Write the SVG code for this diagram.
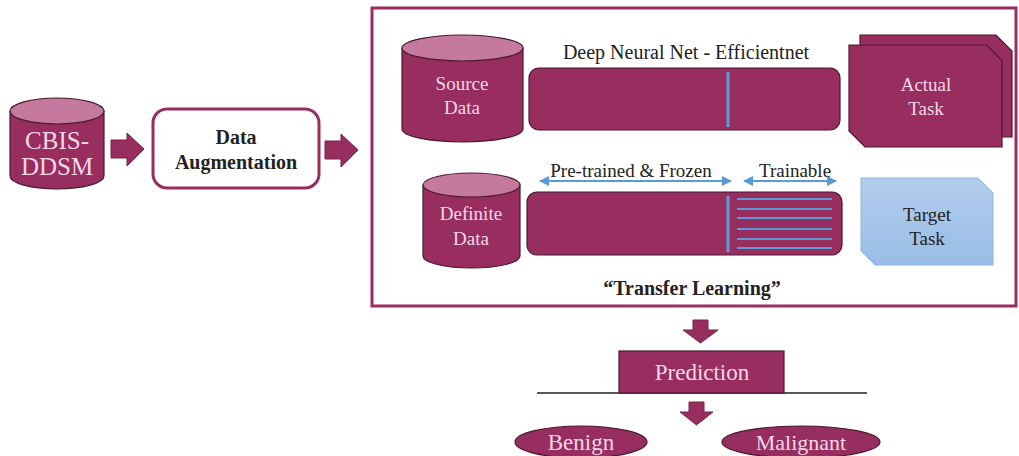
<svg xmlns="http://www.w3.org/2000/svg" width="1019" height="456" viewBox="0 0 1019 456">
<style>
.m{fill:#982d5f;stroke:#4a1a30;stroke-width:1.2}
.top{fill:#c5799f;stroke:#4a1a30;stroke-width:1.2}
.lt{fill:#f4d8e8}
.dk{fill:#222}
.blue{stroke:#5b9bd5;stroke-width:3}
.bl2{stroke:#5b9bd5;stroke-width:2}
.arr{fill:#982d5f;stroke:#7a2249;stroke-width:1}
</style>
<defs>
<linearGradient id="g" x1="0" y1="0" x2="0" y2="1"><stop offset="0" stop-color="#b3cdec"/><stop offset="1" stop-color="#98bde6"/></linearGradient>
<marker id="ah" viewBox="0 0 10 10" refX="9" refY="5" markerWidth="5" markerHeight="5" orient="auto-start-reverse"><path d="M0,0L10,5L0,10z" fill="#5b9bd5"/></marker>
</defs>
<rect width="1019" height="456" fill="#fff"/>
<g font-family="Liberation Serif, DejaVu Serif, serif" text-anchor="middle">
<g id="cbis">
<path class="m" d="M10,111 V176 A47,13 0 0 0 104,176 V111z"/>
<ellipse class="top" cx="57" cy="111" rx="47" ry="13"/>
<text class="lt" x="57" y="149" font-size="25">CBIS-</text>
<text class="lt" x="57" y="175" font-size="25">DDSM</text>
</g>
<g id="aug">
<rect x="153" y="109" width="166" height="79" rx="14" fill="#fff" stroke="#982d5f" stroke-width="3"/>
<text class="dk" x="236" y="144" font-size="20" font-weight="bold">Data</text>
<text class="dk" x="236" y="169" font-size="20" font-weight="bold">Augmentation</text>
</g>
<g id="tl">
<rect x="372" y="8" width="644" height="298" fill="#fff" stroke="#982d5f" stroke-width="3"/>
<text class="dk" x="692" y="295" font-size="20" font-weight="bold">“Transfer Learning”</text>
</g>
<g id="source">
<path class="m" d="M402,48 V129 A60.5,13 0 0 0 523,129 V48z"/>
<ellipse class="top" cx="462.5" cy="48" rx="60.5" ry="13"/>
<text class="lt" x="462" y="90" font-size="19">Source</text>
<text class="lt" x="462" y="114" font-size="19">Data</text>
</g>
<g id="net1">
<text class="dk" x="686" y="59" font-size="20">Deep Neural Net - Efficientnet</text>
<rect class="m" x="529" y="68" width="311" height="62" rx="10"/>
<line class="blue" x1="728" y1="72" x2="728" y2="127"/>
</g>
<g id="actual">
<path class="m" d="M860,35 H996 L1012,51 V137 H876 L860,121z"/>
<path class="m" d="M849,45 H987 L1002,61 V147 H865 L849,131z"/>
<text class="lt" x="926" y="91" font-size="19">Actual</text>
<text class="lt" x="926" y="115" font-size="19">Task</text>
</g>
<g id="definite">
<path class="m" d="M423,185 V256 A48.5,12 0 0 0 520,256 V185z"/>
<ellipse class="top" cx="471.5" cy="185" rx="48.5" ry="12"/>
<text class="lt" x="471" y="220" font-size="19">Definite</text>
<text class="lt" x="471" y="245" font-size="19">Data</text>
</g>
<g id="net2">
<text class="dk" x="631" y="177" font-size="19">Pre-trained &amp; Frozen</text>
<text class="dk" x="795" y="177" font-size="19">Trainable</text>
<line class="bl2" x1="540" y1="181" x2="731" y2="181" marker-start="url(#ah)" marker-end="url(#ah)"/>
<line class="bl2" x1="744" y1="181" x2="836" y2="181" marker-start="url(#ah)" marker-end="url(#ah)"/>
<rect class="m" x="527" y="192" width="315" height="63" rx="10"/>
<line class="blue" x1="728" y1="196" x2="728" y2="252"/>
<g class="bl2">
<line x1="737" y1="199" x2="832" y2="199"/>
<line x1="737" y1="209" x2="832" y2="209"/>
<line x1="737" y1="218" x2="832" y2="218"/>
<line x1="737" y1="229" x2="832" y2="229"/>
<line x1="737" y1="239" x2="832" y2="239"/>
<line x1="737" y1="248" x2="832" y2="248"/>
</g>
</g>
<g id="target">
<path d="M861,178 H978 L993,193 V265 H875 L861,251z" fill="url(#g)" stroke="#8fb5e0" stroke-width="1"/>
<text class="dk" x="927" y="221" font-size="19">Target</text>
<text class="dk" x="927" y="245" font-size="19">Task</text>
</g>
<g id="prediction">
<line x1="537" y1="393" x2="867" y2="393" stroke="#222" stroke-width="1.5"/>
<rect class="m" x="619" y="351" width="165" height="42" stroke-width="1.5"/>
<text class="lt" x="702" y="380" font-size="23">Prediction</text>
</g>
<g id="benign">
<ellipse class="m" cx="581" cy="442" rx="66" ry="16"/>
<text class="lt" x="581" y="450" font-size="23">Benign</text>
</g>
<g id="malignant">
<ellipse class="m" cx="801" cy="442" rx="79" ry="16"/>
<text class="lt" x="801" y="450" font-size="22">Malignant</text>
</g>
</g>
<g id="connectors">
<path class="arr" d="M111,140 H127 V133 L144,149 L127,166 V158 H111z"/>
<path class="arr" d="M325,141 H341 V134 L358,150 L341,167 V159 H325z"/>
<path class="arr" d="M693,320 H708 V330 H718 L700.5,343 L683,330 H693z"/>
<path class="arr" d="M689,402 H704 V412 H713 L696.5,425 L680,412 H689z"/>
</g>
</svg>
